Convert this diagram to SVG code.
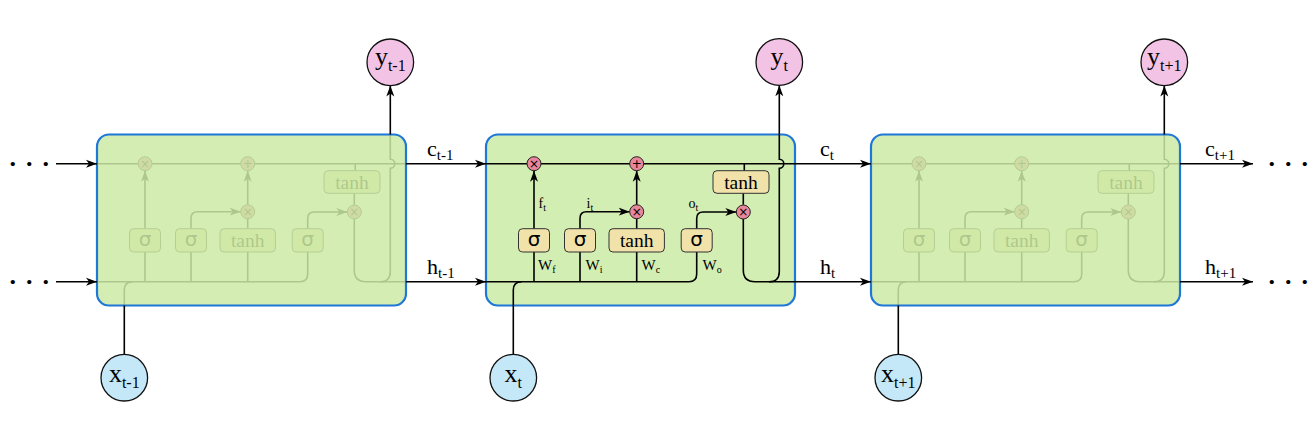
<svg xmlns="http://www.w3.org/2000/svg" width="1314" height="424" viewBox="0 0 1314 424">
<defs>
<style>
.ln{fill:none;stroke:#000;stroke-width:1.6}
.ar{marker-end:url(#ah)}
.cell{fill:#d3eeb3;stroke:#1f77d8;stroke-width:2.2}
.fade{fill:#cbeaa6;fill-opacity:0.85;stroke:#1f77d8;stroke-width:2.2}
.op{fill:#e8879b;stroke:#222;stroke-width:1}
.gate{fill:#f1e2aa;stroke:#333;stroke-width:1}
.yc{fill:#f3c3e5;stroke:#111;stroke-width:1.3}
.xc{fill:#c5e8f8;stroke:#111;stroke-width:1.3}
.t{font-family:"Liberation Serif","Times New Roman",serif;fill:#000}
.sg{font-family:"DejaVu Sans",sans-serif;font-size:20px;text-anchor:middle}
.th{font-family:"Liberation Serif","Times New Roman",serif;font-size:19.5px;text-anchor:middle}
.sym{font-family:"DejaVu Sans",sans-serif;font-size:12px;text-anchor:middle}
.mid{text-anchor:middle}
.dots{font-family:"Liberation Serif","Times New Roman",serif;font-size:26px;font-weight:bold}
</style>
<marker id="ah" markerUnits="userSpaceOnUse" markerWidth="12" markerHeight="9" refX="11" refY="4.5" orient="auto" viewBox="0 0 12 9">
<path d="M0,0.5 L11,4.5 L0,8.5 L3,4.5 z" fill="#000"/>
</marker>
</defs>

<!-- Left cell (t-1), faded -->
<g id="cell-t-1" transform="translate(-389,0)">
<g class="internals">
<path class="ln" d="M486,163.7 H795"/>
<path class="ln" d="M744.3,163.7 V170.7 M743.3,193.3 V204.7"/>
<path class="ln" d="M534,281.7 V252 M580,281.7 V252 M636.7,281.7 V252 M636.7,228.7 V218.7"/>
<path class="ln ar" d="M534,228.7 V170.7"/>
<path class="ln ar" d="M636.7,204.7 V170.7"/>
<path class="ln ar" d="M580,228.7 V218.2 Q580,211.7 586.5,211.7 H629.7"/>
<path class="ln ar" d="M696.7,228.7 V218.5 Q696.7,212 703.2,212 H736.3"/>
<path class="ln" d="M486,281.7 H689 Q696.7,281.7 696.7,274 V252"/>
<path class="ln" d="M513.3,305.5 V290 Q513.3,281.7 521.6,281.7"/>
<path class="ln" d="M743.3,219 V270 Q743.3,281.7 755,281.7 H795"/>
<path class="ln" d="M769,281.7 Q779.3,281.7 779.3,271.4 V168.2 A4.5,4.5 0 0 0 779.3,159.2 V134.5"/>
<circle class="op" cx="534" cy="163.7" r="7"/><text class="sym" x="534" y="168">×</text>
<circle class="op" cx="636.7" cy="163.7" r="7"/><text class="sym" x="636.7" y="168">+</text>
<circle class="op" cx="636.7" cy="211.7" r="7"/><text class="sym" x="636.7" y="216">×</text>
<circle class="op" cx="743.3" cy="212" r="7"/><text class="sym" x="743.3" y="216.3">×</text>
<rect class="gate" x="518.5" y="228.7" width="31" height="23.3" rx="4"/><text class="sg" x="534" y="246">σ</text>
<rect class="gate" x="564.5" y="228.7" width="31" height="23.3" rx="4"/><text class="sg" x="580" y="246">σ</text>
<rect class="gate" x="609" y="228.7" width="55.4" height="23.3" rx="4"/><text class="th" x="636.7" y="246.8">tanh</text>
<rect class="gate" x="681.2" y="228.7" width="31" height="23.3" rx="4"/><text class="sg" x="696.7" y="246">σ</text>
<rect class="gate" x="713" y="170.7" width="56" height="22.6" rx="4"/><text class="th" x="741" y="188.5">tanh</text>
</g>
<rect class="fade" x="486" y="134.5" width="309" height="171" rx="12"/>
</g>

<!-- Middle cell (t) -->
<g id="cell-t">
<rect class="cell" x="486" y="134.5" width="309" height="171" rx="12"/>
<g class="internals">
<path class="ln" d="M486,163.7 H795"/>
<path class="ln" d="M744.3,163.7 V170.7 M743.3,193.3 V204.7"/>
<path class="ln" d="M534,281.7 V252 M580,281.7 V252 M636.7,281.7 V252 M636.7,228.7 V218.7"/>
<path class="ln ar" d="M534,228.7 V170.7"/>
<path class="ln ar" d="M636.7,204.7 V170.7"/>
<path class="ln ar" d="M580,228.7 V218.2 Q580,211.7 586.5,211.7 H629.7"/>
<path class="ln ar" d="M696.7,228.7 V218.5 Q696.7,212 703.2,212 H736.3"/>
<path class="ln" d="M486,281.7 H689 Q696.7,281.7 696.7,274 V252"/>
<path class="ln" d="M513.3,305.5 V290 Q513.3,281.7 521.6,281.7"/>
<path class="ln" d="M743.3,219 V270 Q743.3,281.7 755,281.7 H795"/>
<path class="ln" d="M769,281.7 Q779.3,281.7 779.3,271.4 V168.2 A4.5,4.5 0 0 0 779.3,159.2 V134.5"/>
<circle class="op" cx="534" cy="163.7" r="7"/><text class="sym" x="534" y="168">×</text>
<circle class="op" cx="636.7" cy="163.7" r="7"/><text class="sym" x="636.7" y="168">+</text>
<circle class="op" cx="636.7" cy="211.7" r="7"/><text class="sym" x="636.7" y="216">×</text>
<circle class="op" cx="743.3" cy="212" r="7"/><text class="sym" x="743.3" y="216.3">×</text>
<rect class="gate" x="518.5" y="228.7" width="31" height="23.3" rx="4"/><text class="sg" x="534" y="246">σ</text>
<rect class="gate" x="564.5" y="228.7" width="31" height="23.3" rx="4"/><text class="sg" x="580" y="246">σ</text>
<rect class="gate" x="609" y="228.7" width="55.4" height="23.3" rx="4"/><text class="th" x="636.7" y="246.8">tanh</text>
<rect class="gate" x="681.2" y="228.7" width="31" height="23.3" rx="4"/><text class="sg" x="696.7" y="246">σ</text>
<rect class="gate" x="713" y="170.7" width="56" height="22.6" rx="4"/><text class="th" x="741" y="188.5">tanh</text>
</g>
<g class="labels">
<text class="t" x="538.5" y="207.5" font-size="14">f<tspan font-size="10" dy="3">t</tspan></text>
<text class="t" x="586.5" y="207.5" font-size="14">i<tspan font-size="10" dy="3">t</tspan></text>
<text class="t" x="688.5" y="207.5" font-size="14">o<tspan font-size="10" dy="3">t</tspan></text>
<text class="t" x="538" y="270" font-size="15">W<tspan font-size="10" dy="3">f</tspan></text>
<text class="t" x="585.5" y="270" font-size="15">W<tspan font-size="10" dy="3">i</tspan></text>
<text class="t" x="641.5" y="270" font-size="15">W<tspan font-size="10" dy="3">c</tspan></text>
<text class="t" x="702.5" y="270" font-size="15">W<tspan font-size="10" dy="3">o</tspan></text>
</g>
</g>

<!-- Right cell (t+1), faded -->
<g id="cell-t+1" transform="translate(385,0)">
<g class="internals">
<path class="ln" d="M486,163.7 H795"/>
<path class="ln" d="M744.3,163.7 V170.7 M743.3,193.3 V204.7"/>
<path class="ln" d="M534,281.7 V252 M580,281.7 V252 M636.7,281.7 V252 M636.7,228.7 V218.7"/>
<path class="ln ar" d="M534,228.7 V170.7"/>
<path class="ln ar" d="M636.7,204.7 V170.7"/>
<path class="ln ar" d="M580,228.7 V218.2 Q580,211.7 586.5,211.7 H629.7"/>
<path class="ln ar" d="M696.7,228.7 V218.5 Q696.7,212 703.2,212 H736.3"/>
<path class="ln" d="M486,281.7 H689 Q696.7,281.7 696.7,274 V252"/>
<path class="ln" d="M513.3,305.5 V290 Q513.3,281.7 521.6,281.7"/>
<path class="ln" d="M743.3,219 V270 Q743.3,281.7 755,281.7 H795"/>
<path class="ln" d="M769,281.7 Q779.3,281.7 779.3,271.4 V168.2 A4.5,4.5 0 0 0 779.3,159.2 V134.5"/>
<circle class="op" cx="534" cy="163.7" r="7"/><text class="sym" x="534" y="168">×</text>
<circle class="op" cx="636.7" cy="163.7" r="7"/><text class="sym" x="636.7" y="168">+</text>
<circle class="op" cx="636.7" cy="211.7" r="7"/><text class="sym" x="636.7" y="216">×</text>
<circle class="op" cx="743.3" cy="212" r="7"/><text class="sym" x="743.3" y="216.3">×</text>
<rect class="gate" x="518.5" y="228.7" width="31" height="23.3" rx="4"/><text class="sg" x="534" y="246">σ</text>
<rect class="gate" x="564.5" y="228.7" width="31" height="23.3" rx="4"/><text class="sg" x="580" y="246">σ</text>
<rect class="gate" x="609" y="228.7" width="55.4" height="23.3" rx="4"/><text class="th" x="636.7" y="246.8">tanh</text>
<rect class="gate" x="681.2" y="228.7" width="31" height="23.3" rx="4"/><text class="sg" x="696.7" y="246">σ</text>
<rect class="gate" x="713" y="170.7" width="56" height="22.6" rx="4"/><text class="th" x="741" y="188.5">tanh</text>
</g>
<rect class="fade" x="486" y="134.5" width="309" height="171" rx="12"/>
</g>

<!-- Connectors -->
<g id="connectors">
<path class="ln ar" d="M56,163.7 H97"/>
<path class="ln ar" d="M56,281.7 H97"/>
<path class="ln ar" d="M406,163.7 H486"/>
<path class="ln ar" d="M406,281.7 H486"/>
<path class="ln ar" d="M795,163.7 H871"/>
<path class="ln ar" d="M795,281.7 H871"/>
<path class="ln ar" d="M1180,163.7 H1253"/>
<path class="ln ar" d="M1180,281.7 H1253"/>
<path class="ln ar" d="M390.3,134.5 V85.6"/>
<path class="ln ar" d="M779.3,134.5 V85.3"/>
<path class="ln ar" d="M1164.3,134.5 V85.6"/>
<path class="ln" d="M124.3,354.4 V305.5"/>
<path class="ln" d="M513.3,354.4 V305.5"/>
<path class="ln" d="M898.3,354.4 V305.5"/>
</g>

<!-- Edge labels -->
<g id="edge-labels" class="t">
<text x="427" y="156" font-size="22">c<tspan font-size="15" dy="4">t-1</tspan></text>
<text x="427" y="274" font-size="22">h<tspan font-size="15" dy="4">t-1</tspan></text>
<text x="820" y="156" font-size="22">c<tspan font-size="15" dy="4">t</tspan></text>
<text x="820" y="274" font-size="22">h<tspan font-size="15" dy="4">t</tspan></text>
<text x="1205" y="156" font-size="22">c<tspan font-size="15" dy="4">t+1</tspan></text>
<text x="1205" y="274" font-size="22">h<tspan font-size="15" dy="4">t+1</tspan></text>
</g>
<g id="dots">
<text class="dots" x="9.5" y="166">.<tspan dx="10">.</tspan><tspan dx="10">.</tspan></text>
<text class="dots" x="9.5" y="284">.<tspan dx="10">.</tspan><tspan dx="10">.</tspan></text>
<text class="dots" x="1268.5" y="166">.<tspan dx="10">.</tspan><tspan dx="10">.</tspan></text>
<text class="dots" x="1268.5" y="284">.<tspan dx="10">.</tspan><tspan dx="10">.</tspan></text>
</g>

<!-- Output nodes -->
<g id="y-t-1"><circle class="yc" cx="390.3" cy="62.3" r="23.3"/><text class="t mid" x="390.3" y="64.8" font-size="26">y<tspan font-size="16" dy="6">t-1</tspan></text></g>
<g id="y-t"><circle class="yc" cx="779.3" cy="62" r="23.3"/><text class="t mid" x="779.3" y="64.5" font-size="26">y<tspan font-size="16" dy="6">t</tspan></text></g>
<g id="y-t+1"><circle class="yc" cx="1164.3" cy="62.3" r="23.3"/><text class="t mid" x="1164.3" y="64.8" font-size="26">y<tspan font-size="16" dy="6">t+1</tspan></text></g>

<!-- Input nodes -->
<g id="x-t-1"><circle class="xc" cx="124.3" cy="377.7" r="23.3"/><text class="t mid" x="124.3" y="381.5" font-size="26">x<tspan font-size="16" dy="6">t-1</tspan></text></g>
<g id="x-t"><circle class="xc" cx="513.3" cy="377.7" r="23.3"/><text class="t mid" x="513.3" y="381.5" font-size="26">x<tspan font-size="16" dy="6">t</tspan></text></g>
<g id="x-t+1"><circle class="xc" cx="898.3" cy="377.7" r="23.3"/><text class="t mid" x="898.3" y="381.5" font-size="26">x<tspan font-size="16" dy="6">t+1</tspan></text></g>
</svg>
